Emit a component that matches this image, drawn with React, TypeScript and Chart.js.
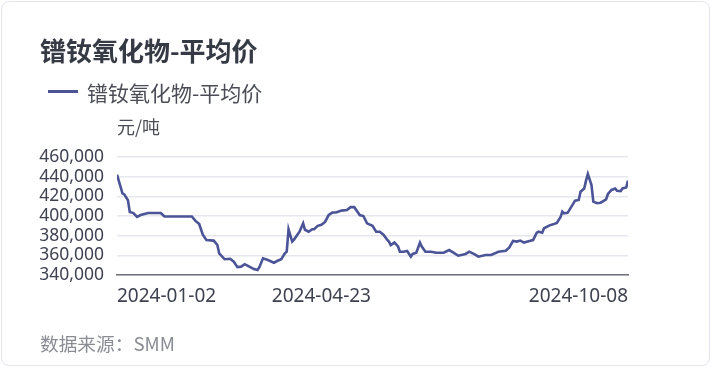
import React, { useEffect, useRef } from "react";
import { Chart, registerables } from "chart.js";

Chart.register(...registerables);

const TITLE = "镨钕氧化物-平均价";
const SERIES_NAME = "镨钕氧化物-平均价";
const UNIT = "元/吨";
const SOURCE = "数据来源：SMM";

const dates: string[] = [
  "2024-01-02", "2024-01-05", "2024-01-06", "2024-01-08", "2024-01-09", "2024-01-11", "2024-01-13", "2024-01-15",
  "2024-01-19", "2024-01-26", "2024-01-28", "2024-02-12", "2024-02-14", "2024-02-16", "2024-02-18", "2024-02-20",
  "2024-02-24", "2024-02-26", "2024-02-27", "2024-03-01", "2024-03-04", "2024-03-06", "2024-03-08", "2024-03-10",
  "2024-03-12", "2024-03-14", "2024-03-17", "2024-03-19", "2024-03-20", "2024-03-22", "2024-03-25", "2024-03-28",
  "2024-03-30", "2024-04-01", "2024-04-03", "2024-04-04", "2024-04-05", "2024-04-07", "2024-04-08", "2024-04-11",
  "2024-04-13", "2024-04-14", "2024-04-16", "2024-04-18", "2024-04-19", "2024-04-21", "2024-04-23", "2024-04-25",
  "2024-04-27", "2024-04-29", "2024-05-01", "2024-05-04", "2024-05-07", "2024-05-09", "2024-05-11", "2024-05-14",
  "2024-05-16", "2024-05-18", "2024-05-21", "2024-05-23", "2024-05-25", "2024-05-27", "2024-05-29", "2024-05-30",
  "2024-05-31", "2024-06-02", "2024-06-04", "2024-06-05", "2024-06-07", "2024-06-09", "2024-06-11", "2024-06-12",
  "2024-06-14", "2024-06-16", "2024-06-17", "2024-06-19", "2024-06-22", "2024-06-25", "2024-06-29", "2024-07-02",
  "2024-07-05", "2024-07-07", "2024-07-11", "2024-07-13", "2024-07-16", "2024-07-18", "2024-07-22", "2024-07-25",
  "2024-07-29", "2024-08-02", "2024-08-04", "2024-08-06", "2024-08-08", "2024-08-10", "2024-08-12", "2024-08-14",
  "2024-08-17", "2024-08-19", "2024-08-20", "2024-08-22", "2024-08-23", "2024-08-26", "2024-08-28", "2024-08-30",
  "2024-09-01", "2024-09-02", "2024-09-03", "2024-09-05", "2024-09-07", "2024-09-09", "2024-09-11", "2024-09-12",
  "2024-09-14", "2024-09-15", "2024-09-16", "2024-09-18", "2024-09-19", "2024-09-21", "2024-09-23", "2024-09-24",
  "2024-09-26", "2024-09-27", "2024-09-29", "2024-10-01", "2024-10-02", "2024-10-04", "2024-10-05", "2024-10-07",
  "2024-10-08",
];

const prices: number[] = [
  442000, 423000, 422000, 416000, 404000, 403000, 399000, 401000,
  403000, 403000, 399500, 399500, 395000, 392000, 381000, 375500,
  375000, 370500, 362000, 356000, 356500, 353500, 348000, 348500,
  351000, 349000, 346000, 345000, 348000, 357000, 355000, 352500,
  354500, 356000, 362000, 363700, 386500, 374000, 376000, 384000,
  392500, 386000, 384000, 386500, 386500, 390000, 391000, 394000,
  401000, 403500, 403500, 405500, 406000, 409000, 409000, 401000,
  400000, 392500, 390000, 384000, 384000, 381000, 376000, 374000,
  370500, 373000, 369000, 363700, 363700, 364400, 358600, 361400,
  362700, 373000, 369000, 363700, 363700, 362700, 362700, 365400,
  362000, 359600, 361400, 363700, 361000, 358600, 360300, 360300,
  363700, 364700, 368000, 374600, 374000, 375000, 373000, 374000,
  375500, 383000, 384000, 383000, 387500, 390500, 391500, 393000,
  398700, 404400, 402700, 403400, 409500, 415600, 416300, 424700,
  428000, 436000, 442700, 431500, 414600, 413000, 413500, 414600,
  417000, 422400, 426500, 428000, 425700, 425400, 428000, 429000,
  436000,
];

const xTickDates: string[] = ["2024-01-02", "2024-04-23", "2024-10-08"];

const Y_MIN = 340000;
const Y_MAX = 460000;
const Y_STEP = 20000;

const LINE_COLOR = "#4a5497";

const dayMs = 24 * 3600 * 1000;
const toDay = (s: string) => {
  const [y, m, d] = s.split("-").map(Number);
  return Math.round((Date.UTC(y, m - 1, d) - Date.UTC(2024, 0, 2)) / dayMs);
};

export default function App() {
  const ref = useRef<HTMLCanvasElement | null>(null);

  useEffect(() => {
    document.body.style.margin = "0";
    if (!ref.current) return;
    const points = dates.map((d, i) => ({ x: toDay(d), y: prices[i] }));
    const tickDays = xTickDates.map(toDay);
    const labelFor: Record<number, string> = {};
    xTickDates.forEach((d) => (labelFor[toDay(d)] = d));

    const chart = new Chart(ref.current, {
      type: "line",
      data: {
        datasets: [
          {
            label: SERIES_NAME,
            data: points,
            borderColor: LINE_COLOR,
            backgroundColor: LINE_COLOR,
            borderWidth: 2.6,
            pointRadius: 0,
            tension: 0,
          },
        ],
      },
      options: {
        animation: false,
        responsive: false,
        maintainAspectRatio: false,
        layout: { padding: { left: 0, right: 84, top: 157, bottom: 0 } },
        plugins: {
          legend: { display: false },
          title: { display: false },
          tooltip: { enabled: false },
        },
        scales: {
          x: {
            type: "linear",
            min: 0,
            max: toDay(dates[dates.length - 1]),
            afterBuildTicks: (scale: any) => {
              scale.ticks = tickDays.map((v) => ({ value: v }));
            },
            afterFit: (scale: any) => {
              scale.height = 369 - 275;
            },
            grid: { display: false, drawTicks: false },
            border: { display: true, color: "#6e7079", width: 1.5 },
            ticks: {
              align: "inner",
              padding: 10,
              maxRotation: 0,
              autoSkip: false,
              color: "#3e4250",
              font: { family: "'Noto Sans', sans-serif", size: 19 },
              callback: (v: any) => labelFor[v] ?? "",
            },
          },
          y: {
            min: Y_MIN,
            max: Y_MAX,
            afterFit: (scale: any) => {
              scale.width = 117;
            },
            grid: { color: "#e6e7ee", lineWidth: 1.5, drawTicks: false },
            border: { display: false },
            ticks: {
              stepSize: Y_STEP,
              autoSkip: false,
              padding: 13,
              color: "#3e4250",
              font: { family: "'Noto Sans', sans-serif", size: 17.5, lineHeight: 1 },
              callback: (v: any) => Number(v).toLocaleString("en-US"),
            },
          },
        },
      },
    });
    return () => chart.destroy();
  }, []);

  const cjk = "'Noto Sans CJK SC', 'Noto Sans', sans-serif";

  return (
    <div style={{ position: "fixed", left: 0, top: 0, width: 712, height: 369, background: "#fff", overflow: "hidden" }}>
      <div
        style={{
          position: "absolute", left: 1, top: 1, width: 707, height: 363,
          border: "1px solid #e4e4ee", borderRadius: 8, boxSizing: "content-box",
        }}
      />
      <canvas ref={ref} width={712} height={369} style={{ position: "absolute", left: 0, top: 0, width: 712, height: 369 }} />
      <div style={{ position: "absolute", left: 40, top: 36, fontFamily: cjk, fontWeight: 700, fontSize: 26, lineHeight: "27px", color: "#363a44", whiteSpace: "nowrap" }}>
        {TITLE}
      </div>
      <div style={{ position: "absolute", left: 48, top: 90, width: 30, height: 3, background: LINE_COLOR }} />
      <div style={{ position: "absolute", left: 87, top: 81, fontFamily: cjk, fontSize: 21, lineHeight: "23px", color: "#4a4d55", whiteSpace: "nowrap" }}>
        {SERIES_NAME}
      </div>
      <div style={{ position: "absolute", left: 117, top: 116, fontFamily: cjk, fontSize: 18, lineHeight: "21px", color: "#4a4d55", whiteSpace: "nowrap" }}>
        {UNIT}
      </div>
      <div style={{ position: "absolute", left: 40, top: 332, fontFamily: cjk, fontSize: 18.7, lineHeight: "21px", color: "#8a8c94", whiteSpace: "nowrap" }}>
        {SOURCE}
      </div>
    </div>
  );
}
